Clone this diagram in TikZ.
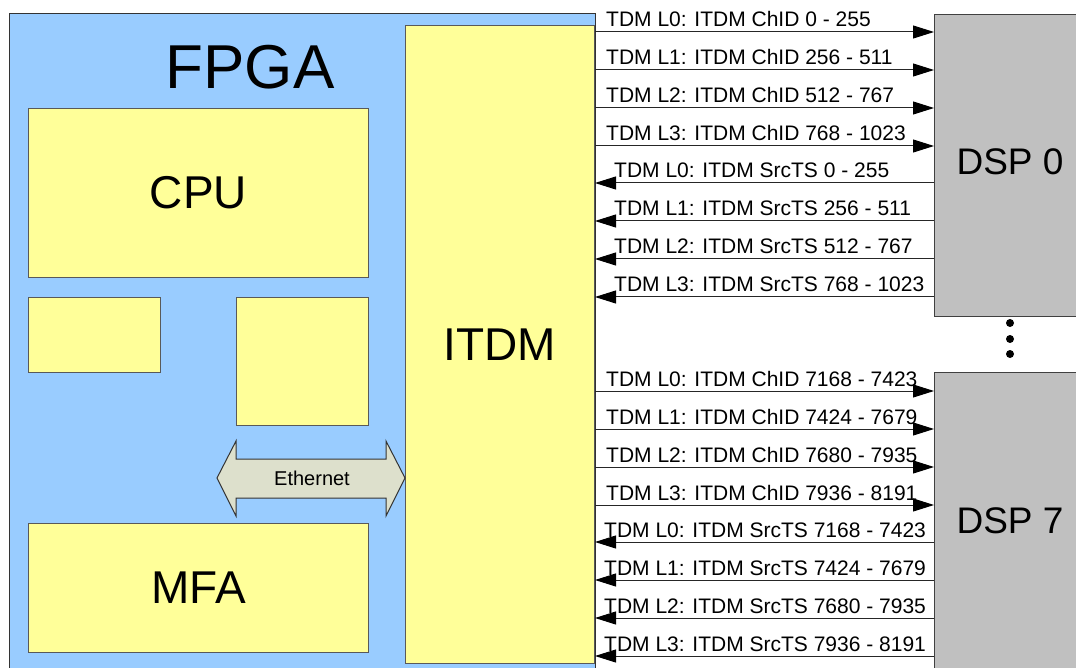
\documentclass[tikz,border=0pt]{standalone}
\usepackage{fontspec}
\setmainfont{Liberation Sans}
\usetikzlibrary{arrows.meta}
\definecolor{fpgablue}{RGB}{153,204,255}
\definecolor{blockyellow}{RGB}{255,255,153}
\definecolor{dspgray}{RGB}{192,192,192}
\definecolor{ethgreen}{RGB}{221,224,204}
\tikzset{
  fpgabox/.style={rectangle, draw=black!80, fill=fpgablue, line width=1pt, anchor=north west, inner sep=0pt},
  block/.style={rectangle, draw=black!65, fill=blockyellow, line width=1pt, anchor=north west, inner sep=0pt},
  dspbox/.style={rectangle, draw=black!75, fill=dspgray, line width=1pt, anchor=north west, inner sep=0pt},
  big/.style={font=\fontsize{46}{46}\selectfont},
  tdm/.style={-{Triangle[length=21pt,width=13pt,black]}, line width=1pt, black!85},
  lbl/.style={font=\fontsize{21}{21}\selectfont, anchor=base west, inner sep=0pt}
}
\begin{document}
\begin{tikzpicture}[x=1pt, y=-1pt]
  \useasboundingbox (0,0) rectangle (1076,668);
  \clip (0,0) rectangle (1076,668);
  % FPGA and its blocks
  \node[fpgabox, minimum width=586pt, minimum height=662pt] (fpga) at (9,13) {};
  \node[font=\fontsize{62}{62}\selectfont, inner sep=0pt] (fpgatxt) at (250,67) {FPGA};
  \node[block, big, minimum width=340pt, minimum height=169pt] (cpu) at (28,108) {CPU};
  \node[block, minimum width=132pt, minimum height=75pt] (blka) at (28,297) {};
  \node[block, minimum width=132pt, minimum height=128pt] (blkb) at (236,297) {};
  \node[block, big, minimum width=340pt, minimum height=129pt] (mfa) at (28,523) {MFA};
  \node[block, big, minimum width=189pt, minimum height=638pt] (itdm) at (405,25) {ITDM};
  % Ethernet
  \draw[draw=black!80, fill=ethgreen, line width=1pt, line join=miter]
    (217,478) -- (236,441) -- (236,459) -- (386,459) -- (386,441) -- (405,478)
    -- (386,516) -- (386,498) -- (236,498) -- (236,516) -- cycle;
  \node[font=\fontsize{20}{20}\selectfont, inner sep=0pt] (eth) at (312,478) {Ethernet};
  % DSPs
  \node[dspbox, minimum width=152pt, minimum height=302pt] (dsp0) at (934,14) {};
  \node[dspbox, minimum width=152pt, minimum height=298pt] (dsp7) at (934,372) {};
  \node[font=\fontsize{37}{37}\selectfont, inner sep=0pt] at (1010,162) {DSP 0};
  \node[font=\fontsize{37}{37}\selectfont, inner sep=0pt] at (1010,521) {DSP 7};
  \foreach \y in {323,339,354}
    \fill (1010,\y) circle (4);
  % TDM links to DSP 0
  \foreach \y/\r [count=\i from 0] in {32/{0 - 255},70/{256 - 511},108/{512 - 767},146/{768 - 1023}}{
    \draw[tdm] (itdm.east |- 0,\y) -- (dsp0.west |- 0,\y);
    \node[lbl] at (606,\y-5) {TDM L\i: ITDM ChID \r};
  }
  \foreach \y/\r [count=\i from 0] in {183/{0 - 255},221/{256 - 511},259/{512 - 767},297/{768 - 1023}}{
    \draw[tdm] (dsp0.west |- 0,\y) -- (itdm.east |- 0,\y);
    \node[lbl] at (614,\y-5) {TDM L\i: ITDM SrcTS \r};
  }
  % TDM links to DSP 7
  \foreach \y/\r [count=\i from 0] in {391/{7168 - 7423},429/{7424 - 7679},467/{7680 - 7935},505/{7936 - 8191}}{
    \draw[tdm] (itdm.east |- 0,\y) -- (dsp7.west |- 0,\y);
    \node[lbl] at (606,\y-5) {TDM L\i: ITDM ChID \r};
  }
  \foreach \y/\r [count=\i from 0] in {542/{7168 - 7423},580/{7424 - 7679},618/{7680 - 7935},656/{7936 - 8191}}{
    \draw[tdm] (dsp7.west |- 0,\y) -- (itdm.east |- 0,\y);
    \node[lbl] at (604,\y-5) {TDM L\i: ITDM SrcTS \r};
  }
\end{tikzpicture}
\end{document}
